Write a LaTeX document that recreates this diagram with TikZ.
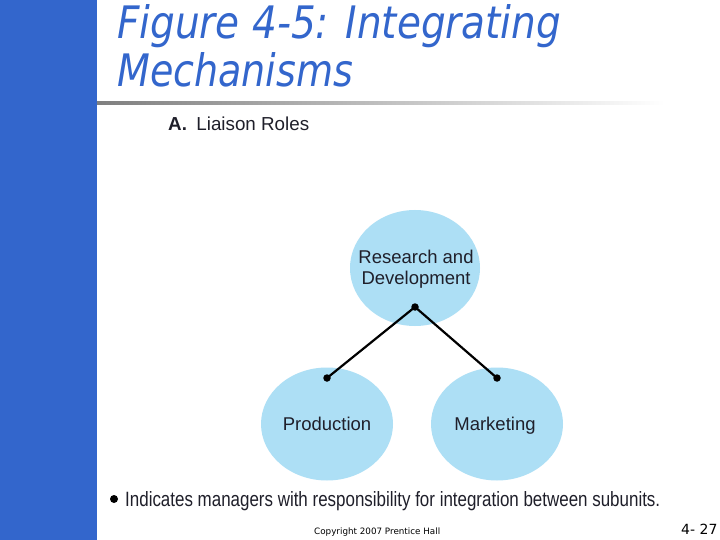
\documentclass[tikz,border=0pt]{standalone}
\usepackage{fontspec}
\setmainfont{Liberation Sans}
\newfontfamily\titlefont{DejaVu Sans}
\usepackage{graphicx}
\usetikzlibrary{shapes.geometric}
\definecolor{barblue}{HTML}{3366CC}
\definecolor{titleblue}{HTML}{3366CC}
\definecolor{bubble}{HTML}{ADDFF5}
\definecolor{inktext}{HTML}{1F1F2A}
\begin{document}
\begin{tikzpicture}[x=1pt,y=-1pt,
  bubblenode/.style={ellipse, fill=bubble, minimum width=132pt, minimum height=113pt, inner sep=0pt},
  bubbletext/.style={inner sep=0pt, align=center, text=inktext, font=\fontsize{18.5}{21}\selectfont},
  liaison/.style={line width=2.2pt, black},
  dotmark/.style={circle, fill=black, inner sep=0pt, minimum size=7.5pt}]
\useasboundingbox (0,0) rectangle (720,540);
\fill[white] (0,0) rectangle (720,540);
\fill[barblue] (0,0) rectangle (97,540);
\shade[left color=gray, right color=white] (97,101.5) rectangle (665,104.5);
\node[anchor=base west, inner sep=0pt, text=titleblue] (t1) at (117,39) {\resizebox{444pt}{34pt}{\titlefont\itshape Figure 4-5: Integrating}};
\node[anchor=base west, inner sep=0pt, text=titleblue] (t2) at (117,87) {\resizebox{236pt}{34pt}{\titlefont\itshape Mechanisms}};
\node[anchor=base west, inner sep=0pt, text=inktext] (sec) at (168,131) {\resizebox{141pt}{!}{\textbf{A.}\hspace{0.5em}Liaison Roles}};
\node[bubblenode, minimum height=116pt, minimum width=130pt] (rd) at (415,268) {};
\node[bubblenode] (prod) at (327,424) {};
\node[bubblenode] (mkt) at (497,424) {};
\node[bubbletext, anchor=base] (rdl1) at (416,263) {Research and};
\node[bubbletext, anchor=base] (rdl2) at (416,284) {Development};
\node[bubbletext, anchor=base] (prodl) at (327,430) {Production};
\node[bubbletext, anchor=base] (mktl) at (495,430) {Marketing};
\node[dotmark] (d0) at (415,307) {};
\node[dotmark] (d1) at (327,378) {};
\node[dotmark] (d2) at (497,378) {};
\draw[liaison] (d0.center) -- (d1.center);
\draw[liaison] (d0.center) -- (d2.center);
\node[circle, fill=black, inner sep=0pt, minimum size=8pt] (bul) at (114,499) {};
\node[anchor=base west, inner sep=0pt, text=inktext] (note) at (125,506) {\resizebox{535pt}{15pt}{Indicates managers with responsibility for integration between subunits.}};
\node[anchor=base west, inner sep=0pt] (copy) at (314,534) {\resizebox{126pt}{!}{\titlefont Copyright 2007 Prentice Hall}};
\node[anchor=base west, inner sep=0pt] (pg) at (681,534) {\fontsize{14}{16}\selectfont\titlefont 4- 27};
\end{tikzpicture}
\end{document}
